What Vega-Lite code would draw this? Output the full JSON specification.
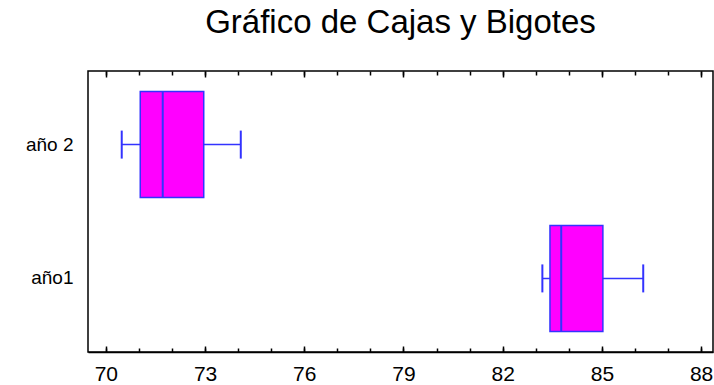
{
  "$schema": "https://vega.github.io/schema/vega-lite/v6.json",
  "width": 625,
  "height": 281,
  "autosize": "none",
  "padding": {"left": 88, "top": 71, "right": 1, "bottom": 33},
  "title": {"text": "Gráfico de Cajas y Bigotes", "font": "Liberation Sans", "fontSize": 33, "fontWeight": "normal", "color": "#000", "anchor": "middle", "baseline": "alphabetic", "offset": 4},
  "config": {
    "view": {"stroke": "#000", "strokeWidth": 1.5},
    "axis": {"grid": false, "title": null, "tickColor": "#000", "tickWidth": 1.5, "domainColor": "#000", "domainWidth": 1.5, "labelColor": "#000"}
  },
  "data": {"values": [
    {"grupo": "año 2", "min": 70.48, "q1": 71.04, "mediana": 71.72, "q3": 72.96, "max": 74.08},
    {"grupo": "año1", "min": 83.2, "q1": 83.43, "mediana": 83.77, "q3": 85.03, "max": 86.25}
  ]},
  "encoding": {
    "y": {"field": "grupo", "type": "nominal", "sort": ["año 2", "año1"], "scale": {"paddingInner": 0, "paddingOuter": 0.05},
      "axis": {"title": null, "ticks": false, "domain": false, "labelFont": "Liberation Sans", "labelFontSize": 19, "labelPadding": 15, "labelColor": "#000"}}
  },
  "layer": [
    {
      "mark": {"type": "rule", "color": "#3333ff", "strokeWidth": 1.5},
      "encoding": {
        "x": {"field": "min", "type": "quantitative", "scale": {"domain": [69.46, 88.36], "nice": false, "zero": false},
          "axis": {"orient": "bottom", "values": [70, 73, 76, 79, 82, 85, 88], "tickSize": -6, "labelFont": "Liberation Sans", "labelFontSize": 21, "labelPadding": 17, "domain": true}},
        "x2": {"field": "max"}
      }
    },
    {
      "mark": {"type": "bar", "size": 106, "fill": "#ff00ff", "stroke": "#3333ff", "strokeWidth": 1.5},
      "encoding": {
        "x": {"field": "q1", "type": "quantitative", "scale": {"domain": [69.46, 88.36], "nice": false, "zero": false},
          "axis": {"orient": "top", "values": [70, 73, 76, 79, 82, 85, 88], "tickSize": -6, "labels": false, "domain": false}},
        "x2": {"field": "q3"}
      }
    },
    {
      "mark": {"type": "tick", "size": 106, "thickness": 2, "color": "#3333ff", "opacity": 1},
      "encoding": {
        "x": {"field": "mediana", "type": "quantitative", "scale": {"domain": [69.46, 88.36], "nice": false, "zero": false},
          "axis": {"orient": "bottom", "values": [70, 71, 72, 73, 74, 75, 76, 77, 78, 79, 80, 81, 82, 83, 84, 85, 86, 87, 88], "tickSize": -4, "labels": false, "domain": false}}
      }
    },
    {
      "mark": {"type": "tick", "size": 28, "thickness": 2, "color": "#3333ff", "opacity": 1},
      "encoding": {
        "x": {"field": "min", "type": "quantitative", "scale": {"domain": [69.46, 88.36], "nice": false, "zero": false},
          "axis": {"orient": "top", "values": [70, 71, 72, 73, 74, 75, 76, 77, 78, 79, 80, 81, 82, 83, 84, 85, 86, 87, 88], "tickSize": -4, "labels": false, "domain": false}}
      }
    },
    {
      "mark": {"type": "tick", "size": 28, "thickness": 2, "color": "#3333ff", "opacity": 1},
      "encoding": {
        "x": {"field": "max", "type": "quantitative", "scale": {"domain": [69.46, 88.36], "nice": false, "zero": false}, "axis": null}
      }
    }
  ],
  "resolve": {"axis": {"x": "independent"}}
}
